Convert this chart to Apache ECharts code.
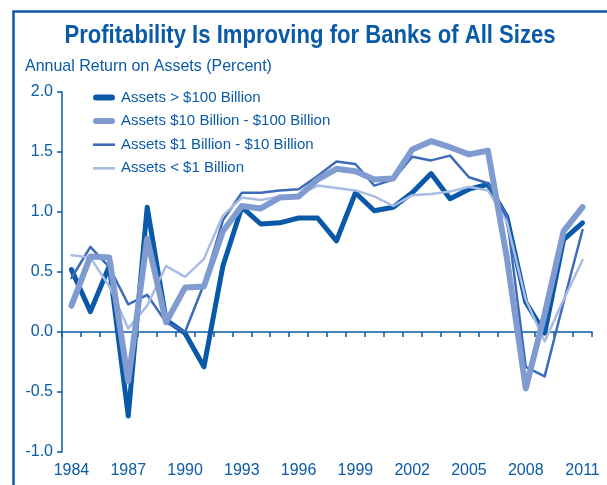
<!DOCTYPE html>
<html>
<head>
<meta charset="utf-8">
<script src="https://cdn.jsdelivr.net/npm/echarts@6/dist/echarts.min.js"></script>
<style>
  html, body { margin: 0; padding: 0; background: #fff; }
  #chart { width: 607px; height: 485px; }
</style>
</head>
<body>
<div id="chart"></div>
<script>
const FONT = "'Liberation Sans', Arial, sans-serif";
const BLUE = '#0b5aa8';

const years = [
  '1984', '1985', '1986', '1987', '1988', '1989', '1990', '1991', '1992', '1993',
  '1994', '1995', '1996', '1997', '1998', '1999', '2000', '2001', '2002', '2003',
  '2004', '2005', '2006', '2007', '2008', '2009', '2010', '2011'
];

// annual return on assets, percent
const over100B = [
  0.52, 0.17, 0.55, -0.70, 1.04, 0.10, -0.01, -0.29, 0.55, 1.04,
  0.90, 0.91, 0.95, 0.95, 0.76, 1.16, 1.01, 1.04, 1.16, 1.32,
  1.11, 1.19, 1.23, 0.96, 0.25, -0.01, 0.77, 0.91
];
const from10to100B = [
  0.22, 0.63, 0.62, -0.41, 0.78, 0.08, 0.37, 0.38, 0.84, 1.05,
  1.03, 1.12, 1.13, 1.27, 1.36, 1.34, 1.27, 1.28, 1.52, 1.59,
  1.54, 1.48, 1.51, 0.62, -0.47, 0.15, 0.84, 1.04
];
const from1to10B = [
  0.45, 0.71, 0.54, 0.23, 0.31, 0.08, 0.00, 0.40, 0.93, 1.16,
  1.16, 1.18, 1.19, 1.30, 1.42, 1.40, 1.22, 1.27, 1.46, 1.43,
  1.47, 1.29, 1.24, 0.97, -0.29, -0.37, 0.25, 0.85
];
const under1B = [
  0.64, 0.62, 0.38, 0.03, 0.22, 0.55, 0.46, 0.61, 0.97, 1.12,
  1.10, 1.13, 1.14, 1.22, 1.20, 1.18, 1.13, 1.05, 1.14, 1.15,
  1.17, 1.21, 1.18, 0.92, 0.27, -0.08, 0.27, 0.60
];

const seriesNames = [
  'Assets > $100 Billion',
  'Assets $10 Billion - $100 Billion',
  'Assets $1 Billion - $10 Billion',
  'Assets < $1 Billion'
];

// legend swatches: rounded thick bars for the big banks, thin bars for the rest
const thickIcon = 'path://M3,0 H19 A3,3 0 0 1 19,6 H3 A3,3 0 0 1 3,0 Z';
const thinIcon = 'path://M0,0 H22 V2.6 H0 Z';

const chart = echarts.init(document.getElementById('chart'));

const makeLine = (name, data, color, width, z) => ({
  name,
  type: 'line',
  data,
  xAxisIndex: 0,
  symbol: 'none',
  z,
  lineStyle: { color, width, join: 'round', cap: 'round' },
  itemStyle: { color }
});

chart.setOption({
  animation: false,
  graphic: [
    {
      type: 'polyline',
      shape: { points: [[13.5, 500], [13.5, 11.5], [620, 11.5]] },
      style: { stroke: BLUE, lineWidth: 2.5, fill: null },
      silent: true
    },
    {
      type: 'text',
      x: 310,
      y: 36,
      scaleX: 0.85,
      style: {
        text: 'Profitability Is Improving for Banks of All Sizes',
        fill: BLUE,
        font: 'bold 26px ' + FONT,
        align: 'center',
        verticalAlign: 'middle'
      }
    },
    {
      type: 'text',
      x: 25,
      y: 66,
      scaleX: 0.94,
      style: {
        text: 'Annual Return on Assets (Percent)',
        fill: BLUE,
        font: '17px ' + FONT,
        align: 'left',
        verticalAlign: 'middle'
      }
    }
  ],
  legend: {
    orient: 'vertical',
    left: 93,
    top: 90,
    padding: 0,
    itemWidth: 22,
    itemHeight: 14,
    itemGap: 8.6,
    data: [
      { name: seriesNames[0], icon: thickIcon },
      { name: seriesNames[1], icon: thickIcon },
      { name: seriesNames[2], icon: thinIcon },
      { name: seriesNames[3], icon: thinIcon }
    ],
    textStyle: { color: BLUE, fontFamily: FONT, fontSize: 15, lineHeight: 14, padding: [0, 0, 0, 1] }
  },
  grid: { left: 62, right: 15, top: 92, bottom: 33 },
  xAxis: [
    {
      type: 'category',
      data: years,
      boundaryGap: true,
      axisLine: { onZero: true, lineStyle: { color: BLUE, width: 1.5 } },
      axisTick: { show: true, interval: 0, length: 5, lineStyle: { color: BLUE, width: 1.5 } },
      axisLabel: { show: false }
    },
    {
      type: 'category',
      data: years,
      position: 'bottom',
      boundaryGap: true,
      axisLine: { show: false, onZero: false },
      axisTick: { show: false },
      axisLabel: {
        interval: 2,
        margin: 11,
        color: BLUE,
        fontFamily: FONT,
        fontSize: 16
      }
    }
  ],
  yAxis: {
    type: 'value',
    min: -1,
    max: 2,
    interval: 0.5,
    axisLine: { show: true, lineStyle: { color: BLUE, width: 1.5 } },
    axisTick: { show: true, length: 5, lineStyle: { color: BLUE, width: 1.5 } },
    splitLine: { show: false },
    axisLabel: {
      margin: 9,
      color: BLUE,
      fontFamily: FONT,
      fontSize: 16,
      formatter: (v) => v.toFixed(1)
    }
  },
  series: [
    makeLine(seriesNames[0], over100B, '#0a58a8', 5, 2),
    makeLine(seriesNames[1], from10to100B, '#7f9bd0', 6, 5),
    makeLine(seriesNames[2], from1to10B, '#3d6bb9', 2.5, 3),
    makeLine(seriesNames[3], under1B, '#a9bce3', 2.5, 4)
  ]
});
</script>
</body>
</html>
